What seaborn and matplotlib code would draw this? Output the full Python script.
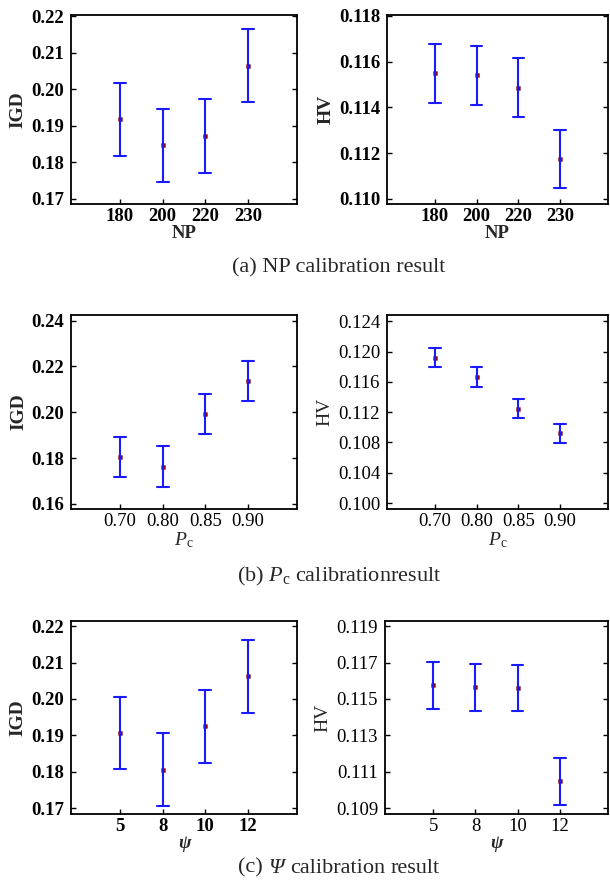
import matplotlib
matplotlib.use("Agg")
import matplotlib.pyplot as plt
import seaborn as sns
import numpy as np
import pandas as pd
from matplotlib.ticker import FormatStrFormatter

# ---- data ----
np_labels = ["180", "200", "220", "230"]
np_igd_mean = [0.1918, 0.1847, 0.1872, 0.2064]
np_igd_err = [0.0100, 0.0100, 0.0100, 0.0100]
np_hv_mean = [0.11548, 0.11540, 0.11486, 0.11174]
np_hv_err = [0.00128, 0.00128, 0.00128, 0.00128]

pc_labels = ["0.70", "0.80", "0.85", "0.90"]
pc_igd_mean = [0.1806, 0.1763, 0.1991, 0.2137]
pc_igd_err = [0.0088, 0.0088, 0.0088, 0.0088]
pc_hv_mean = [0.11920, 0.11665, 0.11247, 0.10920]
pc_hv_err = [0.00128, 0.00128, 0.00128, 0.00128]

psi_labels = ["5", "8", "10", "12"]
psi_igd_mean = [0.1906, 0.1805, 0.1925, 0.2062]
psi_igd_err = [0.0100, 0.0100, 0.0100, 0.0100]
psi_hv_mean = [0.11576, 0.11565, 0.11559, 0.11046]
psi_hv_err = [0.00129, 0.00129, 0.00127, 0.00128]

caption_a = "(a) NP calibration result"
caption_b = "(b) $P_\\mathrm{c}$ calibrationresult"
caption_c_parts = [("(c)", "normal"), ("Ψ", "italic"), ("calibration", "normal"), ("result", "normal")]

sns.set_theme(style="ticks")
plt.rcParams["font.family"] = ["Liberation Serif", "DejaVu Serif"]
plt.rcParams["mathtext.fontset"] = "custom"
plt.rcParams["mathtext.rm"] = "Liberation Serif"
plt.rcParams["mathtext.it"] = "Liberation Serif:italic"
plt.rcParams["mathtext.bf"] = "Liberation Serif:bold"

W, H = 610, 888
fig = plt.figure(figsize=(W / 100, H / 100), dpi=100)


def frame(x0, y0, x1, y1):
    return [x0 / W, 1 - y1 / H, (x1 - x0) / W, (y1 - y0) / H]


def make_df(labels, means, errs):
    rows = []
    for lab, m, e in zip(labels, means, errs):
        rows += [(lab, m - e), (lab, m), (lab, m + e)]
    return pd.DataFrame(rows, columns=["cat", "val"])


panels = [
    (frame(71, 15, 297, 204), np_labels, np_igd_mean, np_igd_err, "IGD", "NP",
     (0.1686, 0.2203), np.arange(0.17, 0.2201, 0.01), "%.2f", True, True),
    (frame(387, 15, 608, 204), np_labels, np_hv_mean, np_hv_err, "HV", "NP",
     (0.10978, 0.11803), np.arange(0.110, 0.11801, 0.002), "%.3f", True, True),
    (frame(71, 315, 297, 509), pc_labels, pc_igd_mean, pc_igd_err, "IGD", "pc",
     (0.1578, 0.2424), np.arange(0.16, 0.2401, 0.02), "%.2f", True, False),
    (frame(387, 315, 608, 509), pc_labels, pc_hv_mean, pc_hv_err, "HV", "pc",
     (0.09921, 0.12485), np.arange(0.100, 0.12401, 0.004), "%.3f", False, False),
    (frame(71, 621, 297, 814), psi_labels, psi_igd_mean, psi_igd_err, "IGD", "psi",
     (0.16835, 0.22145), np.arange(0.17, 0.2201, 0.01), "%.2f", True, True),
    (frame(385, 621, 608, 814), psi_labels, psi_hv_mean, psi_hv_err, "HV", "psi",
     (0.10867, 0.11929), np.arange(0.109, 0.11901, 0.002), "%.3f", False, False),
]

for rect, labels, means, errs, ylab, xlab, ylim, ticks, fmt, ybold, xbold in panels:
    ax = fig.add_axes(rect)
    df = make_df(labels, means, errs)
    sns.pointplot(data=df, x="cat", y="val", order=labels, estimator="median",
                  errorbar=("pi", 100), capsize=0.28, linestyle="none",
                  marker="s", markersize=1.1, color="#8b0000", zorder=5,
                  err_kws={"color": "#1a1aff", "linewidth": 1.5}, ax=ax)
    ax.set_xlim(-1.15, 4.15)
    ax.set_ylim(*ylim)
    ax.set_yticks(ticks)
    ax.yaxis.set_major_formatter(FormatStrFormatter(fmt))
    ax.tick_params(axis="both", direction="in", length=3.5, width=1.0,
                   labelsize=13.5, pad=5, colors="black")
    ax.tick_params(axis="x", pad=3)
    ax.tick_params(axis="y", right=True, left=True)
    ax.tick_params(axis="x", top=False, bottom=True)
    for sp in ax.spines.values():
        sp.set_visible(True)
        sp.set_linewidth(1.3)
        sp.set_color("black")
    yw = "bold" if ybold else "normal"
    xw = "bold" if xbold else "normal"
    for t in ax.get_yticklabels():
        t.set_fontweight(yw)
    for t in ax.get_xticklabels():
        t.set_fontweight(xw)
    ax.set_ylabel(ylab, fontsize=14, fontweight=yw, labelpad=3)
    if xlab == "NP":
        ax.set_xlabel("NP", fontsize=13.5, fontweight="bold", labelpad=0)
    elif xlab == "pc":
        ax.set_xlabel("$P_\\mathrm{c}$", fontsize=14, labelpad=0)
    else:
        ax.set_xlabel("ψ", fontsize=13.5, fontstyle="italic",
                      fontweight="bold", labelpad=0)

CAP_X = 339
CAP_FS = 16
fig.text(CAP_X / W, 1 - 268 / H, caption_a, ha="center", va="center", fontsize=CAP_FS)
fig.text(CAP_X / W, 1 - 576 / H, caption_b, ha="center", va="center", fontsize=CAP_FS)

# caption (c) built from pieces so that Ψ can be italic
renderer = fig.canvas.get_renderer()
probe = fig.text(0, 0, "a a", fontsize=CAP_FS)
w_aa = probe.get_window_extent(renderer).width
probe.set_text("aa")
space_w = w_aa - probe.get_window_extent(renderer).width
probe.remove()
pieces = []
widths = []
for s, style in caption_c_parts:
    t = fig.text(0, 1 - 868 / H, s, ha="left", va="center", fontsize=CAP_FS,
                 fontstyle=style)
    pieces.append(t)
    widths.append(t.get_window_extent(renderer).width)
total = sum(widths) + space_w * (len(pieces) - 1)
x = CAP_X - total / 2
for t, w in zip(pieces, widths):
    t.set_x(x / W)
    x += w + space_w

fig.savefig("out.png", dpi=100)
